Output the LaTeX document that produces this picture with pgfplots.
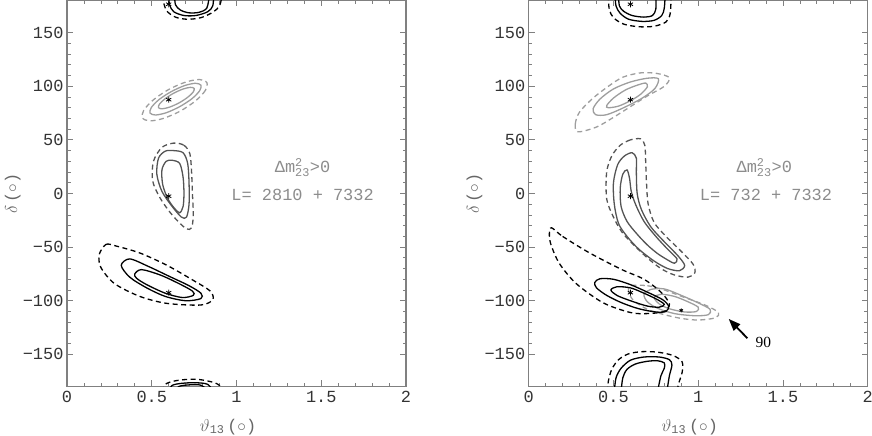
\documentclass[border=0pt]{standalone}
\usepackage{pgfplots}
\pgfplotsset{compat=1.18}
\usepackage{fontspec}
\setmainfont{Liberation Serif}
\setmonofont{Liberation Mono}
\usetikzlibrary{arrows.meta}
\definecolor{fr}{gray}{0.5}
\definecolor{lg}{gray}{0.62}
\definecolor{dg}{gray}{0.33}
\definecolor{tx}{gray}{0.55}
\pgfplotsset{
  panel/.style={
    scale only axis, width=339bp, height=386bp,
    xmin=0, xmax=2, ymin=-180, ymax=180,
    xtick={0,0.5,1,1.5,2}, xticklabels={0,0.5,1,1.5,2},
    ytick={-150,-100,-50,0,50,100,150},
    yticklabels={−150,−100,−50,0,50,100,150},
    minor x tick num=4, minor y tick num=4,
    tick align=inside, major tick length=6bp, minor tick length=3.5bp,
    axis line style={fr, line width=1.5bp},
    every tick/.style={fr, line width=0.8bp},
    tick label style={font=\fontsize{17}{17}\selectfont\ttfamily, text=black!80},
    xticklabel style={yshift=-1.5bp},
    label style={font=\fontsize{17}{17}\selectfont, text=black!60},
    ylabel={$\delta$\,\texttt{(}$\circ$\texttt{)}},
    ylabel style={at={(axis description cs:-0.160,0.5)}, anchor=center, inner sep=0pt},
    xlabel={$\vartheta_{\mathtt{13}}$\,\texttt{(}$\circ$\texttt{)}},
    xlabel style={at={(axis description cs:0.475,-0.104)}, anchor=center},
    clip=true,
  },
  c/.style={line width=1.3bp, smooth cycle, mark=none},
  o/.style={line width=1.3bp, smooth, mark=none},
  d/.style={dash pattern=on 5bp off 3.5bp},
  st/.style={only marks, mark=asterisk, mark size=3bp, black, mark options={line width=0.8bp}},
}
\begin{document}
\begin{tikzpicture}
\path[use as bounding box] (0,0) rectangle (872bp,436bp);
% ================= LEFT PANEL =================
\begin{axis}[panel, at={(67bp,49.5bp)}, anchor=south west]
% light gray group near +87
\addplot[c, d, lg] coordinates {(0.825,103.5)(0.817,96.3)(0.76,86.6)(0.67,77)(0.57,70.1)(0.488,67.7)(0.445,70.5)(0.453,77.7)(0.51,87.4)(0.6,97)(0.7,103.9)(0.782,106.3)};
\addplot[c, lg] coordinates {(0.79,101)(0.7825,95.8)(0.737,88.4)(0.665,81)(0.587,75.4)(0.5225,73.2)(0.49,75)(0.4975,80.2)(0.543,87.6)(0.615,95)(0.693,100.6)(0.7575,102.8)};
\addplot[c, lg] coordinates {(0.75,98)(0.744,94.5)(0.711,89.6)(0.661,84.5)(0.606,80.6)(0.562,79)(0.54,80)(0.546,83.5)(0.579,88.4)(0.629,93.5)(0.684,97.4)(0.728,99)};
% dark gray group near 0
\addplot[c, d, dg] coordinates {(0.63,47)(0.69,45)(0.725,37)(0.735,20)(0.74,0)(0.745,-20)(0.735,-32)(0.705,-33)(0.655,-26)(0.6,-16)(0.545,-3)(0.505,12)(0.51,30)(0.56,43)};
\addplot[c, dg] coordinates {(0.63,40)(0.685,38)(0.712,28)(0.72,10)(0.72,-10)(0.705,-22)(0.675,-22)(0.62,-12)(0.56,2)(0.53,18)(0.54,33)(0.58,39.5)};
\addplot[c, dg] coordinates {(0.62,31)(0.665,28)(0.685,15)(0.69,0)(0.685,-12)(0.665,-18)(0.635,-14)(0.595,-5)(0.565,8)(0.56,22)(0.585,30)};
% black group near -92
\addplot[c, d, black] coordinates {(0.19,-57)(0.23,-47.5)(0.29,-49)(0.43,-55.5)(0.59,-67)(0.745,-81)(0.845,-91)(0.86,-99)(0.79,-104)(0.59,-102.5)(0.43,-96)(0.28,-84)(0.2,-69)};
\addplot[c, black] coordinates {(0.32,-67)(0.37,-61)(0.48,-68)(0.6,-77)(0.72,-86)(0.79,-93)(0.79,-98)(0.7,-100)(0.58,-96)(0.47,-88)(0.37,-78)};
\addplot[c, black] coordinates {(0.4,-75)(0.44,-71)(0.55,-76)(0.66,-84)(0.74,-91)(0.745,-95)(0.68,-97)(0.58,-93)(0.47,-85)(0.41,-79)};
% black group at +-180
\addplot[o, d, black] coordinates {(0.565,185)(0.57,178)(0.59,170)(0.64,164.5)(0.71,162.5)(0.79,164)(0.86,169)(0.9,175)(0.915,185)};
\addplot[o, black] coordinates {(0.6,185)(0.605,176)(0.63,169.5)(0.69,166)(0.76,166)(0.83,169.5)(0.86,175)(0.865,185)};
\addplot[o, black] coordinates {(0.635,185)(0.64,176)(0.67,171)(0.72,168.5)(0.78,169)(0.825,173)(0.84,185)};
\addplot[o, d, black] coordinates {(0.565,-185)(0.58,-178)(0.63,-175)(0.7,-173.5)(0.78,-173.5)(0.86,-176)(0.9,-179)(0.915,-185)};
\addplot[o, black] coordinates {(0.6,-185)(0.62,-179)(0.68,-177)(0.76,-176.5)(0.83,-178)(0.865,-185)};
\addplot[o, black] coordinates {(0.635,-185)(0.66,-180)(0.72,-178.5)(0.79,-178.8)(0.84,-185)};
% best-fit points
\addplot[st] coordinates {(0.6,176.5)(0.6,87.5)(0.6,-2.5)(0.6,-92.5)};
\node[text=tx, font=\fontsize{17}{17}\selectfont\ttfamily] at (axis cs:1.39,24) {Δm$^{\mathtt{2}}_{\mathtt{23}}$>0};
\node[text=tx, font=\fontsize{17}{17}\selectfont\ttfamily] at (axis cs:1.39,-1.6) {L=~2810~+~7332};
\end{axis}
% ================= RIGHT PANEL =================
\begin{axis}[panel, at={(528.7bp,49.5bp)}, anchor=south west]
% light gray group near +87
\addplot[c, d, lg] coordinates {(0.29,57.5)(0.275,65)(0.3,76)(0.38,89)(0.47,100)(0.556,108.5)(0.66,112.5)(0.755,112)(0.83,108)(0.8,100)(0.7,91)(0.6,81)(0.5,71)(0.4,62)};
\addplot[c, lg] coordinates {(0.38,79)(0.42,88)(0.5,97.5)(0.6,104)(0.7,107.5)(0.765,107)(0.745,98)(0.67,89)(0.56,80)(0.46,73.5)(0.395,73.5)};
\addplot[c, lg] coordinates {(0.46,82)(0.5,89)(0.57,96.5)(0.64,101)(0.69,103)(0.7,99.5)(0.66,92.5)(0.6,86.5)(0.53,81.5)(0.47,80)};
% dark gray banana
\addplot[c, d, dg] coordinates {(0.66,51)(0.6,50)(0.54,45)(0.49,35)(0.46,20)(0.46,-5)(0.5,-22)(0.55,-36)(0.62,-48)(0.7,-60)(0.78,-70)(0.86,-76)(0.94,-78)(0.98,-74)(0.97,-66)(0.9,-54)(0.81,-40)(0.74,-27)(0.705,-10)(0.695,10)(0.69,30)(0.685,45)};
\addplot[c, dg] coordinates {(0.61,38)(0.565,35)(0.525,27)(0.5,10)(0.505,-10)(0.53,-28)(0.58,-40)(0.65,-52)(0.74,-63)(0.82,-70)(0.89,-72)(0.92,-67)(0.88,-58)(0.8,-45)(0.72,-31)(0.665,-15)(0.64,0)(0.635,20)(0.635,33)};
\addplot[c, dg] coordinates {(0.58,22)(0.555,18)(0.54,5)(0.545,-12)(0.58,-26)(0.64,-38)(0.7,-48)(0.76,-56)(0.82,-62)(0.86,-65)(0.875,-61)(0.82,-52)(0.75,-40)(0.68,-26)(0.63,-10)(0.605,2)(0.595,14)};
% light gray group near (0.9,-110)
\addplot[c, d, lg] coordinates {(0.6,-86)(0.7,-86)(0.8,-90)(0.92,-97)(1.04,-104)(1.12,-111)(1.1,-116)(1.0,-118)(0.9,-116.5)(0.8,-113)(0.7,-108)(0.62,-100)(0.59,-92)};
\addplot[c, lg] coordinates {(0.68,-94)(0.72,-89.5)(0.8,-89)(0.9,-95)(1.0,-102)(1.07,-108)(1.06,-113)(0.98,-114)(0.86,-112)(0.76,-107)(0.7,-101)};
\addplot[c, lg] coordinates {(0.74,-97)(0.78,-94)(0.86,-96)(0.94,-101)(1.0,-106)(0.99,-110)(0.92,-110.5)(0.83,-107.5)(0.77,-103)};
% black group near -92
\addplot[c, d, black] coordinates {(0.135,-32)(0.2,-40)(0.36,-55.5)(0.55,-71)(0.68,-80)(0.78,-92)(0.83,-103)(0.8,-110)(0.7,-112)(0.6,-111)(0.44,-102)(0.28,-84)(0.18,-65)(0.13,-47)(0.122,-37)};
\addplot[c, black] coordinates {(0.39,-83)(0.42,-79.5)(0.5,-80)(0.6,-85)(0.7,-92)(0.79,-99)(0.825,-105)(0.81,-110)(0.75,-110.5)(0.65,-107.5)(0.55,-102)(0.46,-95)(0.4,-88)};
\addplot[c, black] coordinates {(0.485,-90)(0.52,-87)(0.6,-88)(0.68,-93)(0.76,-99)(0.8,-103.5)(0.77,-106)(0.7,-105)(0.6,-100)(0.52,-95)};
% black group at +-180
\addplot[o, d, black] coordinates {(0.47,185)(0.475,172)(0.5,164)(0.56,158)(0.65,155.5)(0.74,156)(0.81,160)(0.835,168)(0.84,185)};
\addplot[o, black] coordinates {(0.51,185)(0.515,175)(0.54,168)(0.59,162.5)(0.67,160.5)(0.74,161.5)(0.785,166)(0.8,173)(0.805,185)};
\addplot[o, black] coordinates {(0.53,185)(0.535,175)(0.56,170)(0.61,166)(0.68,164.5)(0.73,166)(0.75,172)(0.75,185)};
\addplot[o, d, black] coordinates {(0.465,-185)(0.47,-175)(0.49,-164)(0.53,-155)(0.59,-149.5)(0.67,-147.5)(0.76,-148)(0.85,-151)(0.905,-157)(0.905,-167)(0.885,-177)(0.875,-185)};
\addplot[o, black] coordinates {(0.505,-185)(0.515,-172)(0.545,-163)(0.6,-155.5)(0.68,-152.5)(0.77,-152.5)(0.83,-155)(0.845,-160)(0.83,-170)(0.815,-185)};
\addplot[o, black] coordinates {(0.545,-185)(0.555,-172)(0.58,-164)(0.63,-159)(0.7,-156.5)(0.76,-156)(0.8,-158)(0.8,-163)(0.78,-170)(0.76,-185)};
% best-fit points
\addplot[st] coordinates {(0.6,176.5)(0.6,87.5)(0.6,-2.5)(0.6,-92.5)};
\addplot[st, mark size=2bp] coordinates {(0.9,-109)};
\node[text=tx, font=\fontsize{17}{17}\selectfont\ttfamily] at (axis cs:1.39,24) {Δm$^{\mathtt{2}}_{\mathtt{23}}$>0};
\node[text=tx, font=\fontsize{17}{17}\selectfont\ttfamily] at (axis cs:1.40,-1.6) {L=~732~+~7332};
\draw[line width=1.8bp, -{Triangle[length=12bp,width=9bp]}] (axis cs:1.29,-135) -- (axis cs:1.18,-117);
\node[font=\fontsize{15.5}{15.5}\selectfont] at (axis cs:1.385,-138.5) {90};
\end{axis}
\end{tikzpicture}
\end{document}
